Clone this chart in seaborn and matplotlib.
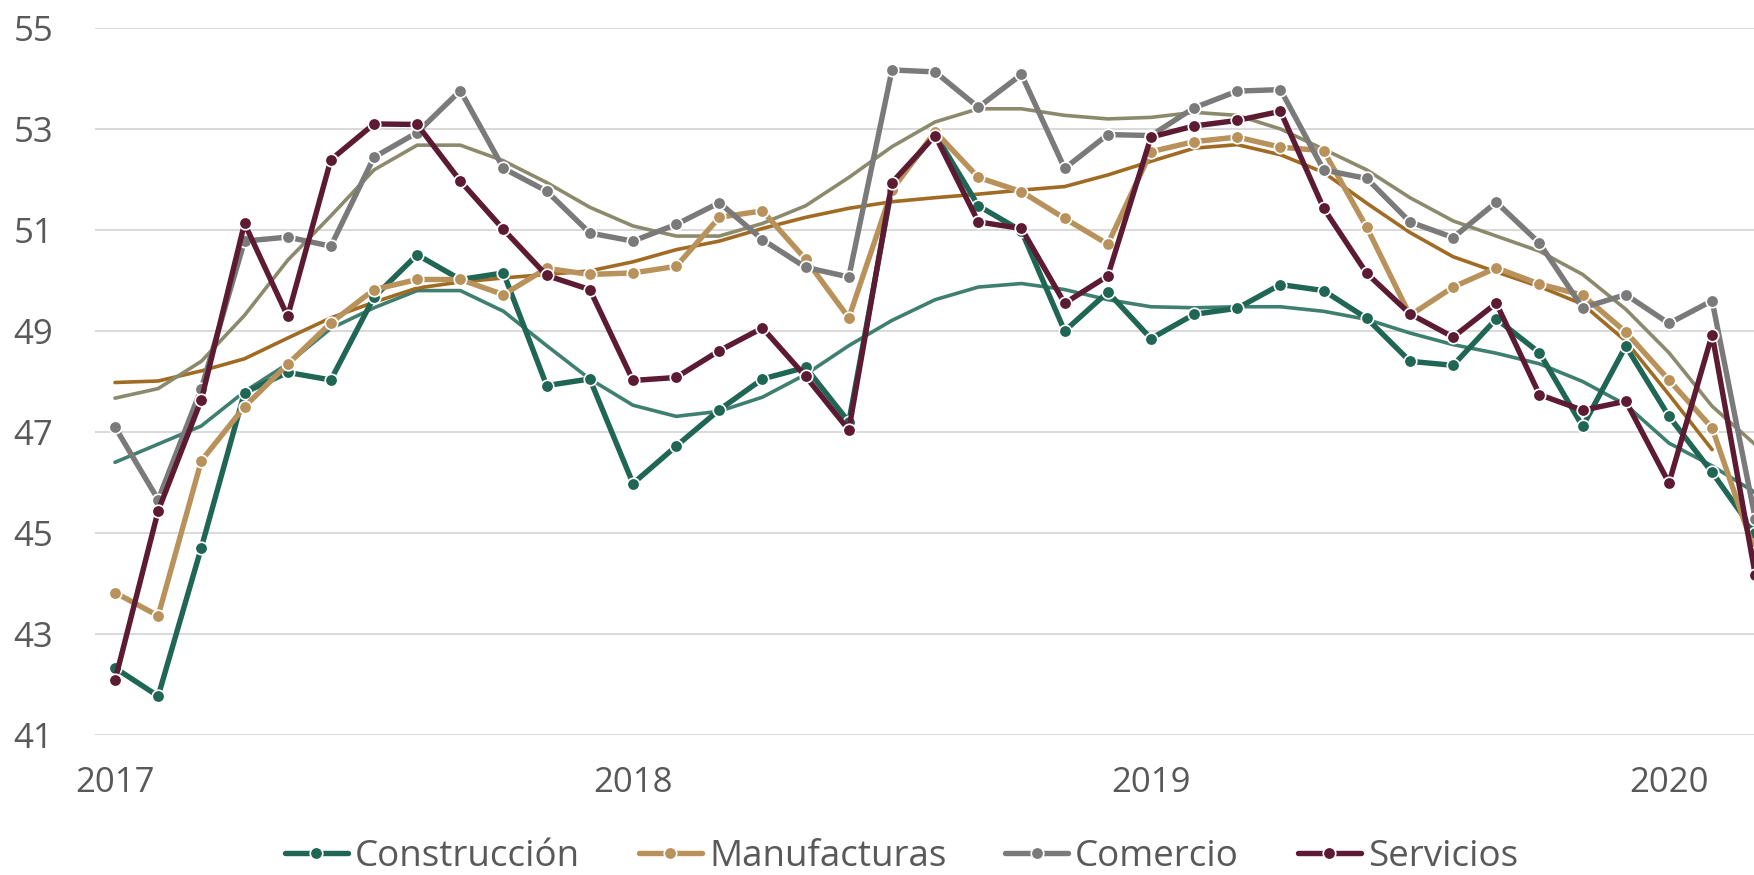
import matplotlib
matplotlib.use("Agg")
import matplotlib.pyplot as plt
import seaborn as sns
import pandas as pd

# Indicadores mensuales, ene-2017 a mar-2020
anios = ['2017', '2018', '2019', '2020']

construccion = [42.33, 41.77, 44.71, 47.78, 48.18, 48.03, 49.67, 50.51, 50.02, 50.15, 47.92, 48.05,
                45.98, 46.72, 47.44, 48.05, 48.28, 47.20, 51.85, 52.90, 51.48, 50.98, 49.00, 49.77,
                48.85, 49.33, 49.45, 49.92, 49.80, 49.25, 48.40, 48.32, 49.24, 48.57, 47.11, 48.70,
                47.31, 46.20, 45.00]
manufacturas = [43.82, 43.36, 46.43, 47.50, 48.34, 49.16, 49.82, 50.02, 50.02, 49.72, 50.24, 50.12,
                50.15, 50.28, 51.25, 51.38, 50.42, 49.26, 51.79, 52.95, 52.04, 51.76, 51.23, 50.72,
                52.55, 52.75, 52.84, 52.64, 52.57, 51.05, 49.31, 49.87, 50.25, 49.93, 49.71, 48.98,
                48.03, 47.08, 44.60]
comercio = [47.10, 45.66, 47.86, 50.78, 50.86, 50.68, 52.44, 52.93, 53.76, 52.22, 51.77, 50.94,
            50.78, 51.11, 51.54, 50.81, 50.26, 50.07, 54.17, 54.13, 53.43, 54.08, 52.22, 52.89,
            52.87, 53.42, 53.75, 53.78, 52.19, 52.02, 51.16, 50.85, 51.55, 50.74, 49.46, 49.72,
            49.15, 49.60, 45.28]
servicios = [42.08, 45.44, 47.64, 51.13, 49.29, 52.39, 53.10, 53.09, 51.97, 51.01, 50.10, 49.82,
             48.02, 48.08, 48.61, 49.06, 48.10, 47.04, 51.94, 52.87, 51.16, 51.03, 49.55, 50.09,
             52.84, 53.06, 53.17, 53.35, 51.43, 50.14, 49.34, 48.88, 49.55, 47.74, 47.43, 47.61,
             45.99, 48.93, 44.17]

# Tendencias (sin marcadores)
tend_construccion = [46.40, 46.76, 47.12, 47.80, 48.35, 49.05, 49.46, 49.80, 49.80, 49.39, 48.71, 48.05,
                     47.53, 47.31, 47.41, 47.69, 48.14, 48.71, 49.21, 49.62, 49.87, 49.94, 49.82, 49.62,
                     49.48, 49.46, 49.48, 49.48, 49.39, 49.23, 48.96, 48.73, 48.56, 48.35, 48.00, 47.54,
                     46.78, 46.33, 45.80]
tend_manufacturas = [47.98, 48.01, 48.21, 48.45, 48.86, 49.26, 49.57, 49.85, 49.97, 50.05, 50.12, 50.19,
                     50.37, 50.61, 50.78, 51.03, 51.25, 51.43, 51.56, 51.64, 51.71, 51.79, 51.86, 52.09,
                     52.36, 52.62, 52.69, 52.49, 52.14, 51.53, 50.95, 50.47, 50.17, 49.88, 49.53, 48.80,
                     47.74, 46.65]
tend_comercio = [47.67, 47.86, 48.40, 49.31, 50.40, 51.28, 52.19, 52.68, 52.68, 52.37, 51.94, 51.45,
                 51.08, 50.88, 50.88, 51.13, 51.48, 52.04, 52.65, 53.14, 53.40, 53.40, 53.27, 53.20,
                 53.23, 53.33, 53.27, 53.00, 52.60, 52.19, 51.64, 51.18, 50.88, 50.58, 50.12, 49.43,
                 48.57, 47.51, 46.75]

sns.set_style("white")
plt.rcParams['font.family'] = ['Open Sans', 'DejaVu Sans']
gris_texto = '#595959'

fig = plt.figure(figsize=(17.54, 8.75), dpi=100)
ax = fig.add_axes([0.054, 0.16, 0.946, 0.808])

# tendencias primero, por debajo
tendencias = [(tend_construccion, '#3f7f70'), (tend_manufacturas, '#a06b22'), (tend_comercio, '#8c8a6c')]
for valores, color in tendencias:
    sns.lineplot(x=list(range(len(valores))), y=valores, color=color, linewidth=2.6,
                 legend=False, ax=ax, zorder=2)

series = [('Construcción', construccion, '#1f6655'),
          ('Manufacturas', manufacturas, '#b8925a'),
          ('Comercio', comercio, '#7a7a7a'),
          ('Servicios', servicios, '#5c1b33')]
for nombre, valores, color in series:
    sns.lineplot(x=list(range(len(valores))), y=valores, color=color, linewidth=3.9,
                 marker='o', markersize=9, markeredgecolor='white', markeredgewidth=1.2,
                 label=nombre, ax=ax, zorder=3)

ax.set_ylim(41, 55)
ax.set_xlim(-0.47, 37.97)
ax.set_yticks(range(41, 56, 2))
ax.set_xticks([0, 12, 24, 36])
ax.set_xticklabels(anios)
ax.yaxis.grid(True, color='#d9d9d9', linewidth=1.4)
ax.xaxis.grid(False)
ax.set_axisbelow(True)
for s in ax.spines.values():
    s.set_visible(False)
ax.tick_params(axis='both', length=0, labelsize=25, labelcolor=gris_texto)
ax.tick_params(axis='y', pad=30)
ax.tick_params(axis='x', pad=22)
ax.set_xlabel('')
ax.set_ylabel('')

ax.legend(loc='lower center', bbox_to_anchor=(0.514, -0.038), bbox_transform=fig.transFigure,
          ncol=4, frameon=False, fontsize=26.5, labelcolor=gris_texto,
          handlelength=1.7, handletextpad=0.2, columnspacing=1.6)

fig.savefig('out.png', dpi=100)
